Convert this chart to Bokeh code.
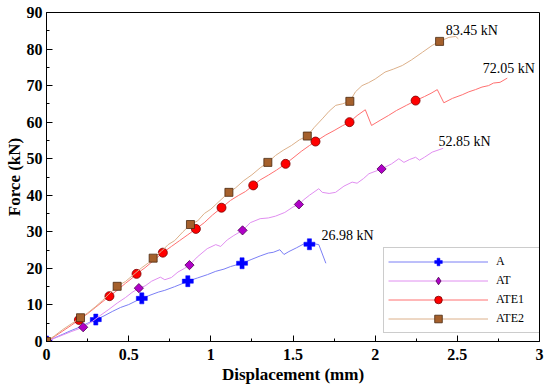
from bokeh.plotting import figure
from bokeh.models import Label, Legend, LegendItem, FixedTicker
from bokeh.embed import file_html
from bokeh.resources import INLINE
import math

# ---------------- data ----------------
x_ticks = [0, 0.5, 1, 1.5, 2, 2.5, 3]
x_tick_labels = ["0", "0.5", "1", "1.5", "2", "2.5", "3"]
y_ticks = [0, 10, 20, 30, 40, 50, 60, 70, 80, 90]

# Specimen A
a_x = [0, 0.05, 0.1, 0.15, 0.2, 0.25, 0.30, 0.35, 0.40, 0.45, 0.5, 0.55, 0.58, 0.62, 0.68,
       0.72, 0.78, 0.83, 0.86, 0.92, 0.98, 1.03, 1.08, 1.12, 1.19, 1.25, 1.30, 1.35, 1.38,
       1.42, 1.445, 1.475, 1.52, 1.566, 1.60, 1.657, 1.70]
a_y = [0, 1.0, 2.0, 3.0, 3.9, 5.0, 6.0, 7.0, 8.2, 9.3, 10.1, 11.2, 11.6, 12.5, 13.5,
       14.0, 15.0, 15.9, 16.5, 17.4, 18.3, 19.2, 19.8, 20.5, 21.4, 22.5, 23.4, 24.2, 24.4,
       25.1, 23.8, 24.6, 25.6, 26.7, 26.98, 26.5, 21.4]
a_mx = [0, 0.30, 0.58, 0.86, 1.19, 1.60]
a_my = [0, 6.0, 11.8, 16.5, 21.4, 26.6]

# Specimen AT
at_x = [0, 0.05, 0.1, 0.15, 0.223, 0.28, 0.33, 0.38, 0.43, 0.48, 0.52, 0.562, 0.60, 0.64,
        0.693, 0.72, 0.76, 0.80, 0.84, 0.87, 0.917, 0.978, 1.03, 1.06, 1.10, 1.14, 1.193,
        1.24, 1.30, 1.35, 1.394, 1.45, 1.50, 1.536, 1.566, 1.60, 1.657, 1.678, 1.72, 1.759,
        1.81, 1.86, 1.89, 1.93, 1.962, 2.039, 2.10, 2.144, 2.175, 2.21, 2.246, 2.27, 2.30,
        2.347, 2.414]
at_y = [0, 0.9, 1.8, 2.7, 3.9, 5.5, 7.2, 8.8, 10.5, 12.0, 13.4, 14.6, 15.2, 16.5,
        17.6, 16.9, 17.5, 19.0, 20.0, 20.9, 23.1, 25.4, 26.5, 26.0, 27.8, 29.0, 30.4,
        32.5, 33.6, 33.8, 34.3, 35.3, 36.8, 37.5, 38.8, 40.0, 41.8, 40.8, 40.5, 40.8,
        42.5, 43.6, 43.3, 44.6, 45.9, 47.2, 48.6, 50.0, 49.0, 49.8, 50.4, 49.6, 50.4,
        51.8, 52.85]
at_mx = [0, 0.223, 0.562, 0.87, 1.193, 1.536, 2.039]
at_my = [0, 3.9, 14.6, 20.9, 30.4, 37.5, 47.2]

# Specimen ATE1
ate1_x = [0, 0.05, 0.1, 0.15, 0.197, 0.25, 0.30, 0.35, 0.383, 0.43, 0.48, 0.52, 0.548, 0.60,
          0.65, 0.708, 0.76, 0.81, 0.86, 0.909, 0.96, 1.01, 1.065, 1.12, 1.17, 1.21, 1.258,
          1.30, 1.35, 1.40, 1.455, 1.50, 1.55, 1.60, 1.637, 1.70, 1.75, 1.80, 1.844, 1.89,
          1.94, 1.978, 2.03, 2.08, 2.13, 2.19, 2.246, 2.30, 2.34, 2.378, 2.418, 2.47, 2.53,
          2.57, 2.61, 2.65, 2.69, 2.72, 2.76, 2.804]
ate1_y = [0, 1.4, 2.9, 4.4, 5.9, 7.6, 9.4, 11.2, 12.4, 14.0, 15.9, 17.3, 18.5, 20.2,
          22.1, 24.3, 26.0, 27.6, 29.2, 30.8, 32.5, 34.6, 36.6, 38.6, 40.0, 41.0, 42.7,
          44.2, 45.5, 46.9, 48.6, 50.2, 52.0, 53.6, 54.7, 56.5, 57.7, 59.0, 60.0, 61.8,
          63.4, 59.1, 60.5, 61.8, 63.2, 64.6, 65.9, 67.0, 67.9, 68.9, 65.3, 66.5, 67.5,
          68.3, 68.9, 69.6, 70.0, 70.7, 70.9, 72.05]
ate1_mx = [0, 0.197, 0.383, 0.548, 0.708, 0.909, 1.065, 1.258, 1.455, 1.637, 1.844, 2.246]
ate1_my = [0, 5.9, 12.4, 18.5, 24.3, 30.8, 36.6, 42.7, 48.6, 54.7, 60.0, 65.9]

# Specimen ATE2
ate2_x = [0, 0.05, 0.1, 0.15, 0.207, 0.25, 0.30, 0.34, 0.38, 0.43, 0.48, 0.53, 0.58, 0.62,
          0.649, 0.70, 0.74, 0.78, 0.83, 0.876, 0.92, 0.96, 1.00, 1.05, 1.11, 1.15, 1.20,
          1.25, 1.30, 1.347, 1.394, 1.44, 1.49, 1.54, 1.587, 1.63, 1.678, 1.72, 1.76, 1.80,
          1.846, 1.88, 1.92, 1.96, 2.0, 2.06, 2.11, 2.165, 2.22, 2.287, 2.347, 2.392, 2.449,
          2.49, 2.506]
ate2_y = [0, 1.6, 3.3, 4.8, 6.5, 7.8, 9.6, 11.2, 13.0, 15.1, 16.4, 18.3, 20.2, 21.5,
          22.8, 24.7, 26.5, 27.6, 30.0, 32.0, 33.0, 35.0, 36.2, 38.3, 40.8, 42.0, 44.0,
          45.6, 47.5, 49.0, 50.9, 52.3, 53.6, 55.2, 56.2, 58.6, 60.9, 63.0, 64.6, 65.0,
          65.7, 68.3, 70.0, 70.8, 71.8, 73.7, 74.5, 75.5, 77.0, 79.1, 81.0, 82.1, 83.2,
          83.45, 82.8]
ate2_mx = [0, 0.207, 0.43, 0.649, 0.876, 1.11, 1.347, 1.587, 1.846, 2.392]
ate2_my = [0, 6.5, 15.1, 22.8, 32.0, 40.8, 49.0, 56.2, 65.7, 82.1]

names = ["A", "AT", "ATE1", "ATE2"]

# ---------------- figure ----------------
SERIF = "Liberation Serif"

p = figure(frame_width=493, frame_height=329, x_range=(0, 3), y_range=(0, 90),
           output_backend="svg", toolbar_location=None,
           min_border_left=46, min_border_right=8, min_border_top=12, min_border_bottom=48)
p.xgrid.visible = False
p.ygrid.visible = False
p.outline_line_color = "black"
p.outline_line_width = 1
p.background_fill_color = "white"

p.xaxis.ticker = FixedTicker(ticks=x_ticks, minor_ticks=[0.25, 0.75, 1.25, 1.75, 2.25, 2.75])
p.xaxis.major_label_overrides = {t: l for t, l in zip(x_ticks, x_tick_labels)}
p.yaxis.ticker = FixedTicker(ticks=y_ticks, minor_ticks=[5, 15, 25, 35, 45, 55, 65, 75, 85])

for ax in (p.xaxis, p.yaxis):
    ax.axis_line_color = "black"
    ax.axis_line_width = 1
    ax.major_tick_in = 6
    ax.major_tick_out = 0
    ax.minor_tick_in = 3
    ax.minor_tick_out = 0
    ax.major_tick_line_color = "black"
    ax.minor_tick_line_color = "black"
    ax.major_label_text_font = SERIF
    ax.major_label_text_font_style = "bold"
    ax.major_label_text_font_size = "16px"
    ax.major_label_text_color = "black"
    ax.axis_label_text_font = SERIF
    ax.axis_label_text_font_style = "bold"
    ax.axis_label_text_font_size = "17px"
    ax.axis_label_text_color = "black"

p.xaxis.axis_label = "Displacement (mm)"
p.yaxis.axis_label = "Force (kN)"
p.xaxis.major_label_standoff = 7
p.xaxis.axis_label_standoff = 2
p.yaxis.major_label_standoff = 4
p.yaxis.axis_label_standoff = 0

series = [
    (a_x, a_y, a_mx, a_my, "#7b7ff5", "#0000ff", "plus"),
    (at_x, at_y, at_mx, at_my, "#e08ef0", "#b000c8", "diamond"),
    (ate1_x, ate1_y, ate1_mx, ate1_my, "#ff7070", "#ff0000", "circle"),
    (ate2_x, ate2_y, ate2_mx, ate2_my, "#dcb08a", "#a5602c", "square"),
]

# legend-only sample point (sits underneath the opaque legend box)
LX, LY = [2.5], [16.0]
items = []
for name, (lx, ly, mx, my, lc, mc, mk) in zip(names, series):
    lr = p.line(lx, ly, line_color=lc, line_width=1)
    if mk == "plus":
        p.scatter(mx, my, marker="plus", size=11, fill_color=mc, line_color=mc, line_width=0.5)
        leg = p.scatter(LX, LY, marker="plus", size=16, fill_color=mc, line_color=mc,
                        line_width=0.5)
    elif mk == "diamond":
        p.scatter(mx, my, marker="square", size=6.5, angle=math.pi / 4,
                  fill_color=mc, line_color="#4a0050", line_width=0.8)
        leg = p.scatter(LX, LY, marker="diamond", size=18,
                        fill_color=mc, line_color="#4a0050", line_width=0.8)
    elif mk == "circle":
        p.scatter(mx, my, marker="circle", size=9, fill_color=mc,
                  line_color="#7a0000", line_width=0.8)
        leg = p.scatter(LX, LY, marker="circle", size=15, fill_color=mc,
                        line_color="#7a0000", line_width=0.8)
    else:
        p.scatter(mx, my, marker="square", size=8, fill_color=mc,
                  line_color="#4a2a10", line_width=0.8)
        leg = p.scatter(LX, LY, marker="square", size=14, fill_color=mc,
                        line_color="#4a2a10", line_width=0.8)
    items.append(LegendItem(label=name, renderers=[lr, leg]))

peak_labels = [
    (max(a_y), 1.674, 29.0),
    (max(at_y), 2.386, 54.7),
    (max(ate1_y), 2.654, 74.7),
    (max(ate2_y), 2.43, 85.1),
]
for val, lxp, lyp in peak_labels:
    p.add_layout(Label(x=lxp, y=lyp, text=f"{val:.2f} kN", text_font=SERIF,
                       text_font_size="14px", text_color="black",
                       text_baseline="alphabetic"))

legend = Legend(items=items, location=(337, 8),
                glyph_width=100, glyph_height=19, spacing=0,
                padding=4, margin=0, label_standoff=8, label_width=46,
                label_text_font=SERIF, label_text_font_size="12px",
                label_text_color="black", label_height=17,
                border_line_color="#999999", border_line_width=1,
                background_fill_color="white", background_fill_alpha=1)
p.add_layout(legend)

open("out.html", "w").write(file_html(p, INLINE))
